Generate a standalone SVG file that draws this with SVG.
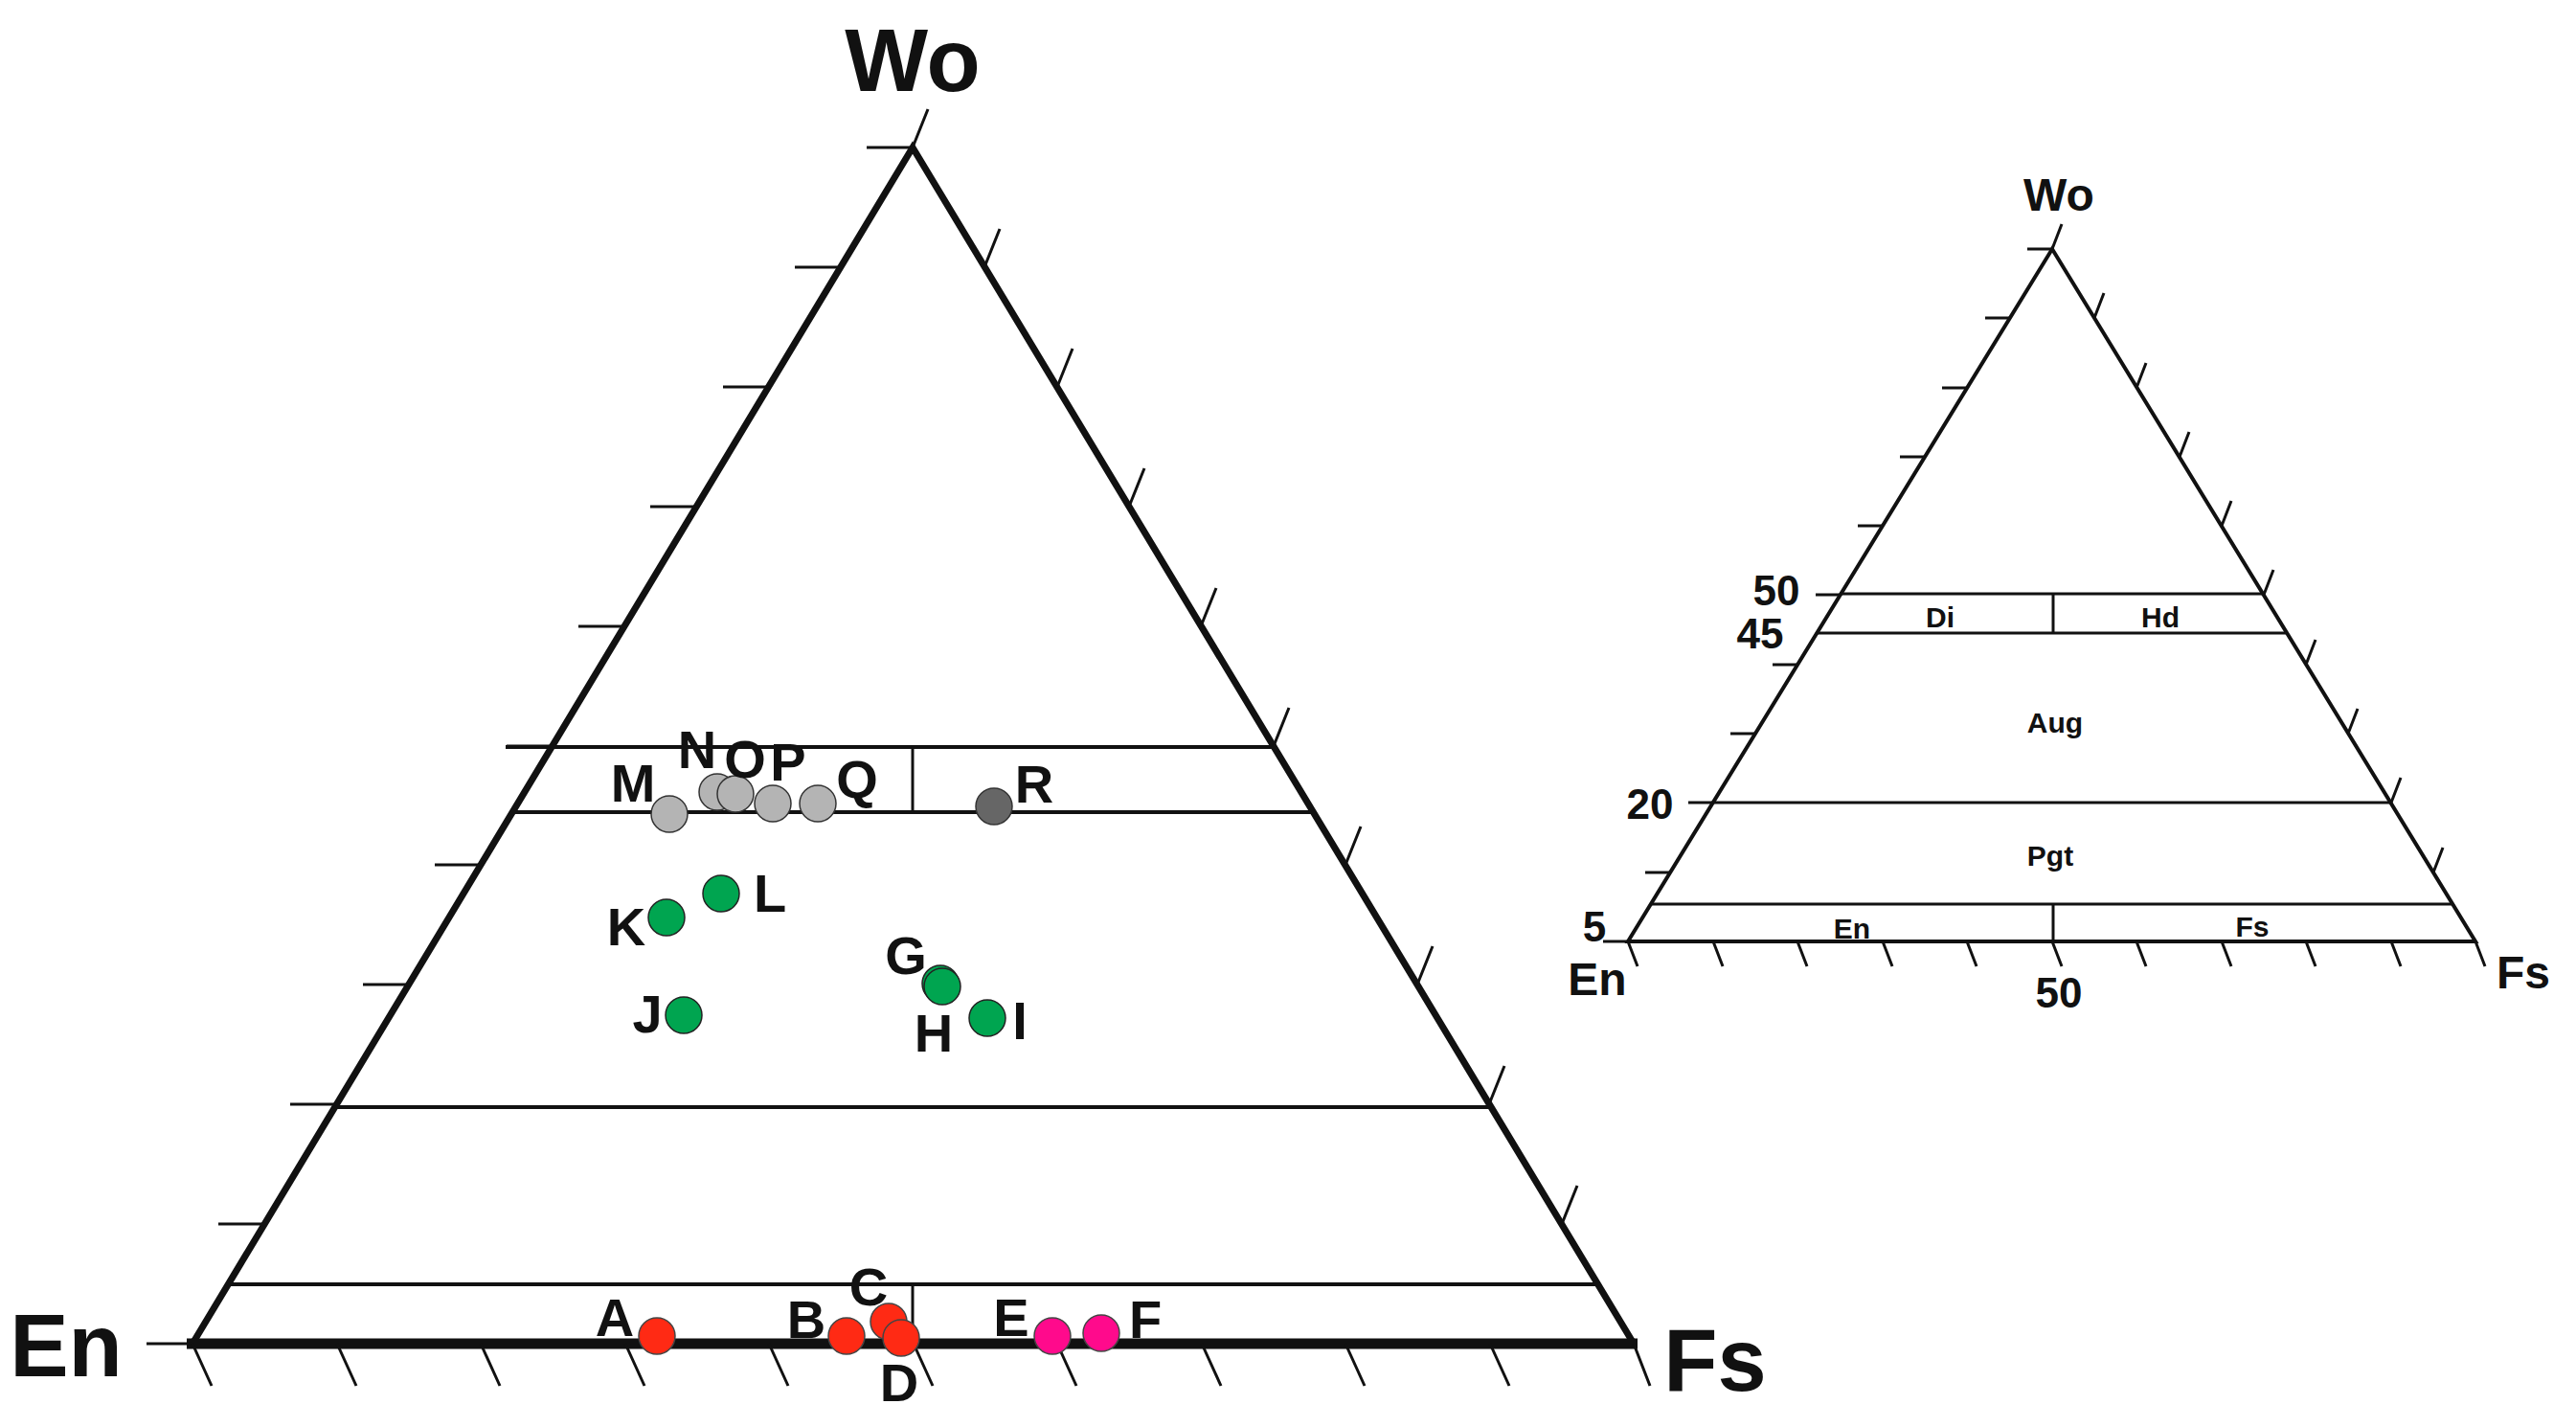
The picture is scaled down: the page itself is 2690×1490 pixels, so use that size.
<svg xmlns="http://www.w3.org/2000/svg" width="2690" height="1490" viewBox="0 0 2690 1490">
<style>
text{font-family:"Liberation Sans Narrow","Liberation Sans",Arial,sans-serif;font-weight:bold;fill:#111;text-anchor:middle}
.t{stroke:#111;stroke-width:3;fill:none}
.e{stroke:#111;stroke-width:7;fill:none;stroke-linejoin:miter}
.l{stroke:#111;stroke-width:4;fill:none}
.s{stroke:#111;stroke-width:3;fill:none}
.lb{font-size:56px}
.g{fill:#b4b4b4;stroke:#333;stroke-width:1.5}
.gr{fill:#00a550;stroke:#222;stroke-width:1.5}
.r{fill:#ff2a14;stroke:#444;stroke-width:1.5}
.m{fill:#ff0a8c;stroke:#444;stroke-width:1.5}
</style>
<rect width="2690" height="1490" fill="#fff"/>
<g id="main-triangle">
<path class="e" d="M201,1403 L953,154 L1706,1403"/>
<line x1="195" y1="1403" x2="1710" y2="1403" stroke="#111" stroke-width="11"/>
<line class="l" x1="528" y1="780" x2="1330" y2="780"/>
<line class="l" x1="535" y1="848" x2="1372" y2="848"/>
<line class="l" x1="350" y1="1156" x2="1557" y2="1156"/>
<line class="l" x1="238" y1="1341" x2="1669" y2="1341"/>
<line class="s" x1="953" y1="780" x2="953" y2="848"/>
<line class="s" x1="953" y1="1341" x2="953" y2="1403"/>
<path class="t" d="M153,1403h48M228,1278h48M303,1153h48M379,1028h48M454,903h48M529,779h48M604,654h48M679,529h48M755,404h48M830,279h48M905,154h48"/>
<path class="t" d="M1706,1403l17,44M1631,1278l16,-40M1555,1153l16,-40M1480,1028l16,-40M1405,903l16,-40M1330,779l16,-40M1254,654l16,-40M1179,529l16,-40M1104,404l16,-40M1028,279l16,-40M953,154l16,-40"/>
<path class="t" d="M201,1403l20,44M352,1403l20,44M502,1403l20,44M653,1403l20,44M803,1403l20,44M954,1403l20,44M1104,1403l20,44M1255,1403l20,44M1405,1403l20,44M1556,1403l20,44"/>
<text x="953" y="95" font-size="92">Wo</text>
<text x="69" y="1437" font-size="92">En</text>
<text x="1791" y="1452" font-size="92">Fs</text>
</g>
<g id="points">
<circle class="g" cx="699" cy="850" r="19"/>
<circle class="g" cx="749" cy="827" r="19"/>
<circle class="g" cx="768" cy="829" r="19"/>
<circle class="g" cx="807" cy="839" r="19"/>
<circle class="g" cx="854" cy="839" r="19"/>
<circle cx="1038" cy="842" r="19" fill="#666" stroke="#333" stroke-width="1.5"/>
<circle class="gr" cx="753" cy="933" r="19"/>
<circle class="gr" cx="696" cy="958" r="19"/>
<circle class="gr" cx="982" cy="1027" r="19"/>
<circle class="gr" cx="984" cy="1030" r="19"/>
<circle class="gr" cx="1031" cy="1063" r="19"/>
<circle class="gr" cx="714" cy="1060" r="19"/>
<circle class="r" cx="686" cy="1395" r="19"/>
<circle class="r" cx="884" cy="1395" r="19"/>
<circle class="r" cx="928" cy="1380" r="19"/>
<circle class="r" cx="941" cy="1397" r="19"/>
<circle class="m" cx="1099" cy="1395" r="19"/>
<circle class="m" cx="1150" cy="1392" r="19"/>
<g class="lb">
<text x="661" y="837">M</text><text x="728" y="802">N</text><text x="778" y="812">O</text><text x="823" y="815">P</text>
<text x="895" y="833">Q</text><text x="1080" y="838">R</text><text x="804" y="952">L</text><text x="654" y="987">K</text>
<text x="946" y="1017">G</text><text x="975" y="1098">H</text><text x="1065" y="1085">I</text><text x="676" y="1078">J</text>
<text x="642" y="1395">A</text><text x="842" y="1397">B</text><text x="907" y="1363">C</text><text x="939" y="1463">D</text>
<text x="1056" y="1395">E</text><text x="1196" y="1397">F</text>
</g>
</g>
<g id="small-triangle">
<path class="l" d="M1700,983 L2143,260 L2585,983 Z"/>
<line class="s" x1="1921" y1="620" x2="2365" y2="620"/>
<line class="s" x1="1897" y1="661" x2="2388" y2="661"/>
<line class="s" x1="1789" y1="838" x2="2497" y2="838"/>
<line class="s" x1="1725" y1="944" x2="2562" y2="944"/>
<line class="s" x1="2144" y1="620" x2="2144" y2="661"/>
<line class="s" x1="2144" y1="944" x2="2144" y2="983"/>
<path class="t" stroke-width="2" d="M1674,983h26M1718,911h26M1763,838h26M1807,766h26M1851,694h26M1896,621h26M1940,549h26M1984,477h26M2028,405h26M2073,332h26M2117,260h26"/>
<path class="t" stroke-width="2" d="M2541,911l10,-26M2497,838l10,-26M2452,766l10,-26M2408,694l10,-26M2364,621l10,-26M2320,549l10,-26M2276,477l10,-26M2231,405l10,-26M2187,332l10,-26M2143,260l10,-26"/>
<path class="t" stroke-width="2" d="M1700,983l10,26M1789,983l10,26M1877,983l10,26M1966,983l10,26M2054,983l10,26M2143,983l10,26M2231,983l10,26M2320,983l10,26M2408,983l10,26M2497,983l10,26M2585,983l10,26"/>
<g font-size="30"><text x="2026" y="655">Di</text><text x="2256" y="655">Hd</text><text x="2146" y="765">Aug</text><text x="2141" y="904">Pgt</text><text x="1934" y="980">En</text><text x="2352" y="978">Fs</text></g>
<g font-size="44"><text x="1855" y="632">50</text><text x="1838" y="677">45</text><text x="1723" y="855">20</text><text x="1665" y="983">5</text><text x="2150" y="1052">50</text>
<text x="2150" y="220" font-size="48">Wo</text><text x="1668" y="1039" font-size="48">En</text><text x="2635" y="1032" font-size="48">Fs</text></g>
</g>
</svg>
